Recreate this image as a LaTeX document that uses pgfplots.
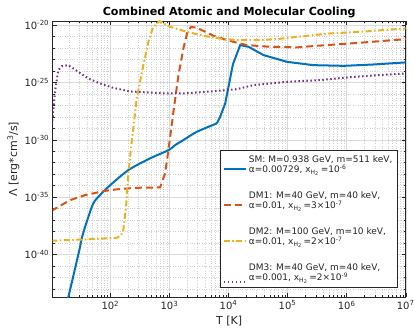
\documentclass[border=0pt]{standalone}
\usepackage{fontspec}
\setmainfont{DejaVu Sans}
\usepackage{pgfplots}
\pgfplotsset{compat=1.18}
\definecolor{mblue}{rgb}{0,0.447,0.741}
\definecolor{morange}{rgb}{0.850,0.325,0.098}
\definecolor{myellow}{rgb}{0.929,0.694,0.125}
\definecolor{mpurple}{rgb}{0.494,0.184,0.556}
\definecolor{axgray}{rgb}{0.15,0.15,0.15}
\begin{document}
\begin{tikzpicture}
\begin{axis}[
  at={(0,0)}, anchor=south west,
  scale only axis, width=353pt, height=276.3pt,
  xmode=log, ymode=log,
  xmin=10.57, xmax=1e7, ymin=1.82e-44, ymax=2.24e-20,
  xtick={1e2,1e3,1e4,1e5,1e6,1e7},
  xticklabels={10\textsuperscript{2},10\textsuperscript{3},10\textsuperscript{4},10\textsuperscript{5},10\textsuperscript{6},10\textsuperscript{7}},
  minor xtick={20,30,40,50,60,70,80,90,200,300,400,500,600,700,800,900,2000,3000,4000,5000,6000,7000,8000,9000,2e4,3e4,4e4,5e4,6e4,7e4,8e4,9e4,2e5,3e5,4e5,5e5,6e5,7e5,8e5,9e5,2e6,3e6,4e6,5e6,6e6,7e6,8e6,9e6},
  ytick={1e-40,1e-35,1e-30,1e-25,1e-20},
  yticklabels={10\textsuperscript{-40},10\textsuperscript{-35},10\textsuperscript{-30},10\textsuperscript{-25},10\textsuperscript{-20}},
  minor ytick={1e-43,1e-42,1e-41,1e-39,1e-38,1e-37,1e-36,1e-34,1e-33,1e-32,1e-31,1e-29,1e-28,1e-27,1e-26,1e-24,1e-23,1e-22,1e-21},
  grid=both,
  major grid style={line width=0.4pt, black!14},
  minor grid style={line width=0.4pt, black!18, dotted},
  tick align=inside,
  major tick length=4pt, minor tick length=2pt,
  axis line style={axgray, line width=0.5pt},
  tick style={axgray, line width=0.4pt},
  ticklabel style={font=\fontsize{10}{11}\selectfont, text=axgray},
  xlabel={T [K]},
  ylabel={Λ [erg*cm\textsuperscript{3}/s]},
  label style={font=\fontsize{11}{12}\selectfont, text=axgray},
  xlabel style={at={(axis description cs:0.5,-0.0858)}, anchor=center},
  ylabel style={at={(axis description cs:-0.1116,0.5)}, anchor=center},
  title={\bfseries Combined Atomic and Molecular Cooling},
  every axis title shift=0pt,
  title style={at={(axis description cs:0.5,1.0326)}, anchor=center, font=\fontsize{11.1}{13}\selectfont},
  legend style={at={(rel axis cs:0.9773,0.0347)}, anchor=south east,
    draw=axgray, fill=white, line width=0.5pt,
    font=\fontsize{9}{10.7}\selectfont, text=axgray,
    cells={anchor=west, align=left},
    row sep=13pt, inner sep=3pt},
  legend image code/.code={\draw[#1] (0pt,-4pt) -- (22pt,-4pt);},
]
% SM (smooth low-temperature part)
\addplot[mblue, line width=2pt, smooth, tension=0.5] coordinates {
(18.62,7.08e-45) (19.41,1.778e-44) (29.85,2.344e-40) (32.73,2.455e-39) (39.81,6.918e-38)
(51.52,2.818e-36) (66.83,1.479e-35) (92.47,7.762e-35) (201.8,2.239e-33) (471.0,2.344e-32) (961.6,1.230e-31)
(1250,3.388e-31) (1726,9.333e-31) (2911,4.898e-30) (6353,2.630e-29)
};
\addlegendentry{SM: M=0.938 GeV, m=511 keV,\\α=0.00729, x\textsubscript{H\textsubscript{2}}\,=10\textsuperscript{-6}}
\addplot[mblue, line width=2pt, forget plot] coordinates {
(6353,2.630e-29) (7228,1.0e-28)
(8790,1.445e-27) (11890,3.715e-24) (15780,1.778e-22) (21830,1.259e-22) (39170,2.399e-23)
(97720,6.166e-24) (2.754e5,3.162e-24) (8.913e5,2.754e-24) (2.871e6,3.631e-24) (1e7,5.495e-24)
};
% DM1
\addplot[morange, line width=2pt, dash pattern=on 7pt off 4pt] coordinates {
(10,6.17e-37) (20.75,5.370e-36) (37.24,1.479e-35) (81.28,3.467e-35) (136.8,4.898e-35)
(298.5,6.457e-35) (695.0,6.918e-35) (845.3,1.148e-33) (961.6,1.230e-31) (1169,2.692e-28)
(1422,4.266e-25) (1726,9.120e-23) (2018,2.570e-21) (2333,6.918e-21) (2911,5.754e-21)
(5572,1.148e-21) (12160,3.388e-22) (20510,1.778e-22) (50930,1.259e-22) (1.442e5,1.122e-22)
(3.148e5,1.549e-22) (6.871e5,2.042e-22) (1.941e6,3.020e-22) (1e7,5.888e-22)
};
\addlegendentry{DM1: M=40 GeV, m=40 keV,\\α=0.01, x\textsubscript{H\textsubscript{2}}\,=3×10\textsuperscript{-7}}
% DM2
\addplot[myellow, line width=2pt, dash pattern=on 6pt off 2.5pt on 1.5pt off 2.5pt] coordinates {
(10,1.549e-39) (30.62,1.950e-39) (128.2,2.754e-39) (151.7,4.786e-39) (166.0,1.318e-38)
(184.5,1.413e-36) (201.8,1.148e-33) (221.8,1.230e-31) (279.9,3.981e-27) (362.2,3.162e-24)
(440.6,3.428e-22) (523.6,5.754e-21) (677.6,2.188e-20) (1028,6.918e-21) (1972,2.570e-21)
(3767,1.148e-21) (8222,5.888e-22) (15780,4.786e-22) (30270,4.786e-22) (66070,5.888e-22)
(1.866e5,1.072e-21) (5.297e5,1.862e-21) (1.706e6,2.570e-21) (1e7,5.012e-21)
};
\addlegendentry{DM2: M=100 GeV, m=10 keV,\\α=0.01, x\textsubscript{H\textsubscript{2}}\,=2×10\textsuperscript{-7}}
% DM3
\addplot[mpurple, line width=2pt, dash pattern=on 1.5pt off 2.5pt,
  legend image post style={yshift=-5pt}] coordinates {
(10,3.98e-30) (10.57,9.333e-29) (11.56,1.514e-26) (13.15,1.175e-24) (15.17,2.630e-24)
(19.41,3.162e-24) (28.71,8.318e-25) (42.36,2.188e-25) (66.83,8.128e-26) (112.5,3.311e-26)
(215.8,1.622e-26) (790.7,1.096e-26) (1726,1.096e-26) (4305,1.514e-26) (13870,2.570e-26)
(26550,5.754e-26) (97720,1.122e-25) (3.581e5,1.585e-25) (1.315e6,3.020e-25) (1e7,6.026e-25)
};
\addlegendentry{DM3: M=40 GeV, m=40 keV,\\α=0.001, x\textsubscript{H\textsubscript{2}}\,=2×10\textsuperscript{-9}\rule[-13.5pt]{0pt}{13.5pt}}
\end{axis}
\pgfresetboundingbox
\path[use as bounding box] (-52.7pt,-30.7pt) rectangle (361.3pt,297.3pt);
\end{tikzpicture}
\end{document}
